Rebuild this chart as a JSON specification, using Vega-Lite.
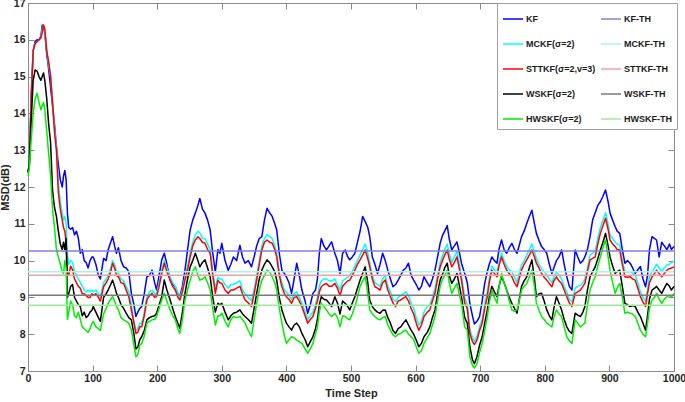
{
  "$schema": "https://vega.github.io/schema/vega-lite/v6.json",
  "width": 646,
  "height": 368,
  "autosize": {"type": "none"},
  "padding": {"left": 28, "top": 3, "right": 11, "bottom": 31},
  "background": "white",
  "config": {"view": {"stroke": "#8a8a8a", "strokeWidth": 1}, "font": "Liberation Sans"},
  "datasets": {
    "curves": [
      {"t":0,"kf":12.4,"mc":12.4,"st":12.4,"ws":12.4,"hw":12.3},
      {"t":2,"kf":12.6,"mc":12.6,"st":12.6,"ws":12.6,"hw":12.5},
      {"t":5,"kf":14.5,"mc":14.4,"st":14.4,"ws":13.8,"hw":13.3},
      {"t":8,"kf":15.7,"mc":15.7,"st":15.7,"ws":14.9,"hw":14.0},
      {"t":11,"kf":15.95,"mc":15.9,"st":15.9,"ws":15.18,"hw":14.4},
      {"t":14,"kf":16.0,"mc":15.95,"st":15.95,"ws":15.15,"hw":14.55},
      {"t":17,"kf":16.0,"mc":16.0,"st":16.0,"ws":15.0,"hw":14.3},
      {"t":20,"kf":16.1,"mc":16.05,"st":16.05,"ws":14.9,"hw":14.1},
      {"t":22,"kf":16.4,"mc":16.3,"st":16.2,"ws":15.0,"hw":14.2},
      {"t":24,"kf":16.35,"mc":16.4,"st":16.4,"ws":15.1,"hw":14.3},
      {"t":26,"kf":16.2,"mc":16.2,"st":16.3,"ws":14.9,"hw":14.1},
      {"t":29,"kf":15.6,"mc":15.7,"st":15.7,"ws":14.4,"hw":13.5},
      {"t":32,"kf":15.2,"mc":15.3,"st":15.4,"ws":13.7,"hw":12.9},
      {"t":35,"kf":14.7,"mc":15.0,"st":15.0,"ws":13.2,"hw":12.3},
      {"t":38,"kf":14.2,"mc":14.3,"st":14.3,"ws":11.9,"hw":11.4},
      {"t":41,"kf":13.7,"mc":13.6,"st":13.5,"ws":11.45,"hw":10.9},
      {"t":44,"kf":13.1,"mc":13.1,"st":13.0,"ws":11.2,"hw":10.3},
      {"t":47,"kf":12.6,"mc":12.1,"st":11.85,"ws":10.8,"hw":10.1},
      {"t":50,"kf":12.2,"mc":11.6,"st":11.4,"ws":10.45,"hw":9.9},
      {"t":53,"kf":12.0,"mc":11.3,"st":11.1,"ws":10.3,"hw":9.7},
      {"t":55,"kf":12.3,"mc":11.1,"st":10.9,"ws":10.5,"hw":9.65},
      {"t":57,"kf":12.45,"mc":11.2,"st":10.8,"ws":10.3,"hw":10.0},
      {"t":59,"kf":12.2,"mc":11.0,"st":10.5,"ws":10.6,"hw":9.8},
      {"t":61,"kf":11.3,"mc":10.2,"st":9.7,"ws":9.0,"hw":8.4},
      {"t":63,"kf":10.9,"mc":9.9,"st":9.6,"ws":9.1,"hw":8.6},
      {"t":66,"kf":10.85,"mc":10.0,"st":9.85,"ws":9.3,"hw":8.9},
      {"t":69,"kf":10.9,"mc":9.95,"st":9.75,"ws":9.35,"hw":8.8},
      {"t":72,"kf":10.7,"mc":9.7,"st":9.5,"ws":9.0,"hw":8.5},
      {"t":75,"kf":10.8,"mc":9.6,"st":9.4,"ws":8.9,"hw":8.45},
      {"t":78,"kf":10.6,"mc":9.5,"st":9.3,"ws":8.8,"hw":8.6},
      {"t":81,"kf":10.2,"mc":9.4,"st":9.25,"ws":8.75,"hw":8.4},
      {"t":84,"kf":10.3,"mc":9.3,"st":9.1,"ws":8.5,"hw":8.2},
      {"t":87,"kf":10.0,"mc":9.2,"st":9.1,"ws":8.6,"hw":8.15},
      {"t":90,"kf":9.95,"mc":9.15,"st":9.05,"ws":8.45,"hw":8.1},
      {"t":93,"kf":9.8,"mc":9.2,"st":9.0,"ws":8.5,"hw":8.05},
      {"t":96,"kf":10.0,"mc":9.15,"st":9.0,"ws":8.6,"hw":8.15},
      {"t":99,"kf":10.1,"mc":9.2,"st":9.1,"ws":8.65,"hw":8.3},
      {"t":101,"kf":10.1,"mc":9.15,"st":9.05,"ws":8.75,"hw":8.35},
      {"t":105,"kf":9.9,"mc":9.2,"st":9.1,"ws":8.6,"hw":8.2},
      {"t":109,"kf":9.6,"mc":9.1,"st":9.0,"ws":8.45,"hw":8.15},
      {"t":112,"kf":9.5,"mc":9.0,"st":8.9,"ws":8.35,"hw":8.1},
      {"t":117,"kf":10.06,"mc":9.4,"st":9.29,"ws":9.0,"hw":8.55},
      {"t":121,"kf":10.0,"mc":9.5,"st":9.4,"ws":9.1,"hw":8.7},
      {"t":124,"kf":10.29,"mc":9.6,"st":9.5,"ws":9.2,"hw":8.84},
      {"t":128,"kf":10.5,"mc":9.8,"st":9.7,"ws":9.35,"hw":8.95},
      {"t":131,"kf":10.65,"mc":10.0,"st":9.93,"ws":9.47,"hw":9.02},
      {"t":134,"kf":10.4,"mc":9.9,"st":9.8,"ws":9.3,"hw":8.9},
      {"t":137,"kf":10.2,"mc":9.7,"st":9.6,"ws":9.11,"hw":8.75},
      {"t":140,"kf":10.35,"mc":9.65,"st":9.56,"ws":9.0,"hw":8.66},
      {"t":144,"kf":10.0,"mc":9.5,"st":9.4,"ws":8.8,"hw":8.45},
      {"t":148,"kf":9.83,"mc":9.45,"st":9.38,"ws":8.7,"hw":8.39},
      {"t":152,"kf":9.8,"mc":9.3,"st":9.2,"ws":8.57,"hw":8.35},
      {"t":156,"kf":9.7,"mc":9.15,"st":9.02,"ws":8.45,"hw":8.3},
      {"t":160,"kf":9.11,"mc":8.8,"st":8.66,"ws":8.39,"hw":8.11},
      {"t":164,"kf":8.8,"mc":8.35,"st":8.3,"ws":8.0,"hw":7.7},
      {"t":167,"kf":8.48,"mc":8.1,"st":8.02,"ws":7.6,"hw":7.39},
      {"t":170,"kf":8.6,"mc":8.15,"st":8.05,"ws":7.65,"hw":7.45},
      {"t":173,"kf":8.7,"mc":8.3,"st":8.2,"ws":7.85,"hw":7.7},
      {"t":176,"kf":8.75,"mc":8.3,"st":8.2,"ws":7.93,"hw":7.75},
      {"t":180,"kf":9.1,"mc":8.6,"st":8.5,"ws":8.1,"hw":7.95},
      {"t":184,"kf":9.56,"mc":9.0,"st":8.93,"ws":8.39,"hw":8.3},
      {"t":188,"kf":9.6,"mc":9.15,"st":9.05,"ws":8.45,"hw":8.35},
      {"t":192,"kf":9.74,"mc":9.2,"st":9.11,"ws":8.48,"hw":8.39},
      {"t":196,"kf":9.4,"mc":9.1,"st":9.0,"ws":8.5,"hw":8.4},
      {"t":199,"kf":9.2,"mc":9.1,"st":9.02,"ws":8.57,"hw":8.48},
      {"t":203,"kf":9.6,"mc":9.4,"st":9.3,"ws":8.8,"hw":8.7},
      {"t":207,"kf":10.02,"mc":9.75,"st":9.65,"ws":9.02,"hw":8.93},
      {"t":211,"kf":10.2,"mc":10.0,"st":9.93,"ws":9.47,"hw":9.11},
      {"t":215,"kf":9.9,"mc":9.8,"st":9.7,"ws":9.2,"hw":8.9},
      {"t":220,"kf":9.47,"mc":9.55,"st":9.47,"ws":8.93,"hw":8.66},
      {"t":224,"kf":9.35,"mc":9.4,"st":9.3,"ws":8.7,"hw":8.5},
      {"t":228,"kf":9.29,"mc":9.3,"st":9.2,"ws":8.48,"hw":8.39},
      {"t":232,"kf":9.1,"mc":9.1,"st":9.0,"ws":8.3,"hw":8.15},
      {"t":235,"kf":9.02,"mc":9.0,"st":8.93,"ws":8.16,"hw":8.02},
      {"t":239,"kf":9.3,"mc":9.2,"st":9.15,"ws":8.6,"hw":8.4},
      {"t":243,"kf":9.74,"mc":9.55,"st":9.47,"ws":9.11,"hw":8.93},
      {"t":247,"kf":10.3,"mc":9.85,"st":9.75,"ws":9.5,"hw":9.2},
      {"t":251,"kf":10.83,"mc":10.2,"st":10.1,"ws":9.83,"hw":9.47},
      {"t":255,"kf":11.1,"mc":10.5,"st":10.4,"ws":10.0,"hw":9.7},
      {"t":259,"kf":11.29,"mc":10.7,"st":10.56,"ws":10.2,"hw":9.83},
      {"t":263,"kf":11.5,"mc":10.8,"st":10.65,"ws":10.0,"hw":9.6},
      {"t":266,"kf":11.69,"mc":10.75,"st":10.6,"ws":9.83,"hw":9.47},
      {"t":270,"kf":11.4,"mc":10.6,"st":10.5,"ws":9.95,"hw":9.5},
      {"t":274,"kf":11.29,"mc":10.6,"st":10.47,"ws":10.02,"hw":9.56},
      {"t":278,"kf":11.1,"mc":10.45,"st":10.3,"ws":9.8,"hw":9.4},
      {"t":282,"kf":10.83,"mc":10.3,"st":10.2,"ws":9.56,"hw":9.2},
      {"t":286,"kf":10.2,"mc":9.7,"st":9.6,"ws":9.0,"hw":8.7},
      {"t":290,"kf":9.7,"mc":9.25,"st":9.11,"ws":8.6,"hw":8.25},
      {"t":294,"kf":10.3,"mc":9.55,"st":9.47,"ws":8.84,"hw":8.5},
      {"t":297,"kf":10.2,"mc":9.5,"st":9.4,"ws":8.8,"hw":8.5},
      {"t":300,"kf":10.47,"mc":9.5,"st":9.38,"ws":8.84,"hw":8.57},
      {"t":305,"kf":10.0,"mc":9.35,"st":9.2,"ws":8.6,"hw":8.35},
      {"t":310,"kf":9.74,"mc":9.25,"st":9.11,"ws":8.39,"hw":8.2},
      {"t":314,"kf":9.9,"mc":9.35,"st":9.2,"ws":8.5,"hw":8.4},
      {"t":318,"kf":10.1,"mc":9.35,"st":9.2,"ws":8.57,"hw":8.48},
      {"t":323,"kf":10.0,"mc":9.4,"st":9.25,"ws":8.6,"hw":8.45},
      {"t":328,"kf":10.42,"mc":9.45,"st":9.3,"ws":8.66,"hw":8.48},
      {"t":332,"kf":10.1,"mc":9.2,"st":9.1,"ws":8.55,"hw":8.4},
      {"t":336,"kf":9.93,"mc":9.1,"st":8.93,"ws":8.48,"hw":8.3},
      {"t":341,"kf":10.0,"mc":9.0,"st":8.85,"ws":8.4,"hw":8.1},
      {"t":346,"kf":9.83,"mc":8.9,"st":8.75,"ws":8.3,"hw":7.93},
      {"t":350,"kf":10.1,"mc":9.2,"st":9.1,"ws":8.7,"hw":8.4},
      {"t":354,"kf":10.4,"mc":9.6,"st":9.47,"ws":9.11,"hw":8.84},
      {"t":358,"kf":10.6,"mc":10.0,"st":9.9,"ws":9.5,"hw":9.2},
      {"t":362,"kf":10.65,"mc":10.4,"st":10.29,"ws":9.74,"hw":9.47},
      {"t":366,"kf":11.1,"mc":10.6,"st":10.5,"ws":9.9,"hw":9.6},
      {"t":370,"kf":11.42,"mc":10.7,"st":10.56,"ws":10.02,"hw":9.74},
      {"t":374,"kf":11.3,"mc":10.65,"st":10.5,"ws":9.95,"hw":9.7},
      {"t":378,"kf":11.2,"mc":10.6,"st":10.47,"ws":9.83,"hw":9.56},
      {"t":382,"kf":11.0,"mc":10.4,"st":10.3,"ws":9.7,"hw":9.4},
      {"t":385,"kf":10.83,"mc":10.2,"st":10.1,"ws":9.47,"hw":9.2},
      {"t":389,"kf":10.2,"mc":9.7,"st":9.6,"ws":9.0,"hw":8.7},
      {"t":393,"kf":9.74,"mc":9.4,"st":9.29,"ws":8.66,"hw":8.3},
      {"t":397,"kf":9.65,"mc":9.2,"st":9.1,"ws":8.45,"hw":7.95},
      {"t":400,"kf":9.56,"mc":9.15,"st":9.02,"ws":8.3,"hw":7.75},
      {"t":404,"kf":9.4,"mc":9.05,"st":8.95,"ws":8.2,"hw":7.85},
      {"t":408,"kf":9.11,"mc":8.95,"st":8.84,"ws":8.11,"hw":7.93},
      {"t":412,"kf":9.5,"mc":9.1,"st":9.0,"ws":8.25,"hw":7.9},
      {"t":416,"kf":9.93,"mc":9.15,"st":9.02,"ws":8.3,"hw":7.84},
      {"t":420,"kf":9.6,"mc":9.0,"st":8.9,"ws":8.2,"hw":7.8},
      {"t":424,"kf":9.2,"mc":8.85,"st":8.75,"ws":8.02,"hw":7.75},
      {"t":429,"kf":8.9,"mc":8.6,"st":8.5,"ws":7.85,"hw":7.6},
      {"t":433,"kf":8.57,"mc":8.4,"st":8.3,"ws":7.66,"hw":7.48},
      {"t":437,"kf":8.8,"mc":8.5,"st":8.4,"ws":7.8,"hw":7.6},
      {"t":441,"kf":9.11,"mc":8.6,"st":8.48,"ws":7.93,"hw":7.75},
      {"t":445,"kf":9.2,"mc":8.8,"st":8.7,"ws":8.15,"hw":8.0},
      {"t":448,"kf":9.5,"mc":9.0,"st":8.9,"ws":8.4,"hw":8.2},
      {"t":451,"kf":10.2,"mc":9.3,"st":9.15,"ws":8.8,"hw":8.6},
      {"t":454,"kf":10.6,"mc":9.45,"st":9.29,"ws":9.02,"hw":8.84},
      {"t":458,"kf":10.4,"mc":9.5,"st":9.35,"ws":8.95,"hw":8.75},
      {"t":462,"kf":10.29,"mc":9.5,"st":9.38,"ws":8.93,"hw":8.66},
      {"t":466,"kf":10.4,"mc":9.45,"st":9.3,"ws":8.85,"hw":8.55},
      {"t":470,"kf":10.51,"mc":9.45,"st":9.3,"ws":8.75,"hw":8.48},
      {"t":475,"kf":10.2,"mc":9.5,"st":9.38,"ws":9.02,"hw":8.57},
      {"t":479,"kf":10.0,"mc":9.35,"st":9.25,"ws":8.85,"hw":8.45},
      {"t":483,"kf":9.65,"mc":9.2,"st":9.05,"ws":8.55,"hw":8.2},
      {"t":487,"kf":10.2,"mc":9.45,"st":9.3,"ws":8.9,"hw":8.5},
      {"t":491,"kf":10.29,"mc":9.5,"st":9.38,"ws":8.84,"hw":8.48},
      {"t":495,"kf":10.1,"mc":9.55,"st":9.45,"ws":8.75,"hw":8.42},
      {"t":498,"kf":10.02,"mc":9.6,"st":9.47,"ws":8.66,"hw":8.39},
      {"t":502,"kf":10.1,"mc":9.7,"st":9.6,"ws":8.85,"hw":8.55},
      {"t":506,"kf":10.2,"mc":9.85,"st":9.74,"ws":9.02,"hw":8.75},
      {"t":510,"kf":10.5,"mc":10.0,"st":9.9,"ws":9.25,"hw":9.0},
      {"t":514,"kf":10.79,"mc":10.15,"st":10.02,"ws":9.47,"hw":9.3},
      {"t":518,"kf":11.2,"mc":10.3,"st":10.15,"ws":9.65,"hw":9.45},
      {"t":522,"kf":11.06,"mc":10.45,"st":10.29,"ws":9.83,"hw":9.56},
      {"t":526,"kf":10.9,"mc":10.2,"st":10.05,"ws":9.4,"hw":9.1},
      {"t":529,"kf":10.65,"mc":9.95,"st":9.83,"ws":8.93,"hw":8.66},
      {"t":533,"kf":10.1,"mc":9.6,"st":9.5,"ws":8.75,"hw":8.55},
      {"t":537,"kf":9.9,"mc":9.4,"st":9.29,"ws":8.66,"hw":8.48},
      {"t":541,"kf":9.65,"mc":9.35,"st":9.25,"ws":8.6,"hw":8.42},
      {"t":545,"kf":9.9,"mc":9.3,"st":9.2,"ws":8.57,"hw":8.39},
      {"t":549,"kf":10.2,"mc":9.5,"st":9.4,"ws":8.65,"hw":8.45},
      {"t":553,"kf":10.0,"mc":9.6,"st":9.47,"ws":8.66,"hw":8.48},
      {"t":557,"kf":9.74,"mc":9.3,"st":9.2,"ws":8.45,"hw":8.25},
      {"t":561,"kf":9.5,"mc":9.15,"st":9.02,"ws":8.3,"hw":8.11},
      {"t":565,"kf":9.29,"mc":8.95,"st":8.85,"ws":8.1,"hw":7.98},
      {"t":569,"kf":9.35,"mc":8.88,"st":8.75,"ws":8.02,"hw":7.93},
      {"t":573,"kf":9.47,"mc":9.0,"st":8.9,"ws":8.15,"hw":8.0},
      {"t":577,"kf":9.6,"mc":9.05,"st":8.93,"ws":8.2,"hw":8.02},
      {"t":581,"kf":9.74,"mc":9.1,"st":8.98,"ws":8.3,"hw":8.08},
      {"t":585,"kf":9.8,"mc":9.15,"st":9.02,"ws":8.39,"hw":8.11},
      {"t":589,"kf":9.93,"mc":9.05,"st":8.9,"ws":8.25,"hw":8.0},
      {"t":593,"kf":9.6,"mc":8.85,"st":8.7,"ws":8.11,"hw":7.93},
      {"t":597,"kf":9.47,"mc":8.7,"st":8.55,"ws":8.0,"hw":7.85},
      {"t":601,"kf":9.35,"mc":8.45,"st":8.3,"ws":7.84,"hw":7.66},
      {"t":605,"kf":9.2,"mc":8.25,"st":8.11,"ws":7.66,"hw":7.48},
      {"t":609,"kf":9.3,"mc":8.35,"st":8.25,"ws":7.75,"hw":7.55},
      {"t":613,"kf":9.56,"mc":8.6,"st":8.48,"ws":7.93,"hw":7.75},
      {"t":618,"kf":9.4,"mc":8.75,"st":8.6,"ws":8.05,"hw":7.9},
      {"t":622,"kf":9.29,"mc":8.8,"st":8.66,"ws":8.2,"hw":8.02},
      {"t":626,"kf":9.5,"mc":9.0,"st":8.9,"ws":8.45,"hw":8.25},
      {"t":630,"kf":9.74,"mc":9.25,"st":9.11,"ws":8.66,"hw":8.48},
      {"t":634,"kf":10.1,"mc":9.6,"st":9.5,"ws":9.1,"hw":8.9},
      {"t":638,"kf":10.47,"mc":9.95,"st":9.83,"ws":9.47,"hw":9.3},
      {"t":642,"kf":10.7,"mc":10.15,"st":10.02,"ws":9.65,"hw":9.5},
      {"t":645,"kf":10.8,"mc":10.3,"st":10.15,"ws":9.8,"hw":9.6},
      {"t":649,"kf":10.95,"mc":10.45,"st":10.29,"ws":9.93,"hw":9.74},
      {"t":652,"kf":10.6,"mc":10.2,"st":10.05,"ws":9.6,"hw":9.4},
      {"t":656,"kf":10.29,"mc":9.95,"st":9.83,"ws":9.38,"hw":9.11},
      {"t":660,"kf":10.4,"mc":10.1,"st":9.95,"ws":9.5,"hw":9.25},
      {"t":664,"kf":10.51,"mc":10.25,"st":10.1,"ws":9.65,"hw":9.38},
      {"t":668,"kf":10.2,"mc":9.9,"st":9.75,"ws":9.3,"hw":9.05},
      {"t":671,"kf":9.93,"mc":9.6,"st":9.47,"ws":9.02,"hw":8.84},
      {"t":676,"kf":9.65,"mc":9.0,"st":8.85,"ws":8.45,"hw":8.2},
      {"t":680,"kf":9.4,"mc":8.8,"st":8.7,"ws":8.3,"hw":8.11},
      {"t":684,"kf":8.84,"mc":8.15,"st":8.02,"ws":7.66,"hw":7.39},
      {"t":688,"kf":8.5,"mc":7.9,"st":7.8,"ws":7.3,"hw":7.15},
      {"t":691,"kf":8.28,"mc":7.8,"st":7.72,"ws":7.2,"hw":7.08},
      {"t":695,"kf":8.35,"mc":7.95,"st":7.84,"ws":7.39,"hw":7.2},
      {"t":699,"kf":8.48,"mc":8.2,"st":8.1,"ws":7.7,"hw":7.5},
      {"t":703,"kf":8.9,"mc":8.4,"st":8.3,"ws":7.93,"hw":7.75},
      {"t":707,"kf":9.38,"mc":8.8,"st":8.7,"ws":8.3,"hw":8.1},
      {"t":711,"kf":9.7,"mc":9.15,"st":9.02,"ws":8.66,"hw":8.48},
      {"t":714,"kf":9.9,"mc":9.5,"st":9.4,"ws":9.0,"hw":8.85},
      {"t":718,"kf":10.1,"mc":9.85,"st":9.74,"ws":9.3,"hw":9.2},
      {"t":722,"kf":10.0,"mc":9.75,"st":9.65,"ws":9.15,"hw":9.0},
      {"t":726,"kf":9.93,"mc":9.68,"st":9.56,"ws":9.02,"hw":8.84},
      {"t":729,"kf":10.3,"mc":9.95,"st":9.85,"ws":9.3,"hw":9.25},
      {"t":733,"kf":10.56,"mc":10.2,"st":10.1,"ws":9.56,"hw":9.65},
      {"t":737,"kf":10.3,"mc":10.0,"st":9.9,"ws":9.4,"hw":9.4},
      {"t":741,"kf":10.2,"mc":9.85,"st":9.74,"ws":9.2,"hw":9.2},
      {"t":745,"kf":10.35,"mc":9.75,"st":9.65,"ws":9.0,"hw":8.9},
      {"t":749,"kf":10.47,"mc":9.7,"st":9.56,"ws":8.84,"hw":8.66},
      {"t":753,"kf":10.3,"mc":9.55,"st":9.4,"ws":8.7,"hw":8.62},
      {"t":757,"kf":10.2,"mc":9.4,"st":9.29,"ws":8.57,"hw":8.66},
      {"t":761,"kf":10.45,"mc":9.7,"st":9.55,"ws":9.0,"hw":8.95},
      {"t":764,"kf":10.65,"mc":9.88,"st":9.74,"ws":9.3,"hw":9.2},
      {"t":768,"kf":10.8,"mc":10.0,"st":9.9,"ws":9.45,"hw":9.3},
      {"t":772,"kf":11.01,"mc":10.15,"st":10.02,"ws":9.56,"hw":9.38},
      {"t":776,"kf":11.2,"mc":10.3,"st":10.15,"ws":9.8,"hw":9.55},
      {"t":780,"kf":11.37,"mc":10.45,"st":10.29,"ws":10.02,"hw":9.74},
      {"t":784,"kf":11.0,"mc":10.25,"st":10.1,"ws":9.5,"hw":9.3},
      {"t":787,"kf":10.74,"mc":10.05,"st":9.93,"ws":9.02,"hw":8.84},
      {"t":791,"kf":10.55,"mc":9.9,"st":9.8,"ws":9.1,"hw":8.65},
      {"t":795,"kf":10.38,"mc":9.78,"st":9.65,"ws":9.11,"hw":8.48},
      {"t":799,"kf":10.3,"mc":9.7,"st":9.55,"ws":8.9,"hw":8.4},
      {"t":803,"kf":10.2,"mc":9.6,"st":9.47,"ws":8.66,"hw":8.3},
      {"t":807,"kf":9.9,"mc":9.5,"st":9.38,"ws":8.5,"hw":8.25},
      {"t":811,"kf":9.65,"mc":9.4,"st":9.29,"ws":8.39,"hw":8.2},
      {"t":814,"kf":9.8,"mc":9.55,"st":9.45,"ws":8.7,"hw":8.45},
      {"t":818,"kf":10.0,"mc":9.7,"st":9.56,"ws":9.02,"hw":8.66},
      {"t":822,"kf":10.1,"mc":9.6,"st":9.45,"ws":8.85,"hw":8.55},
      {"t":826,"kf":10.29,"mc":9.5,"st":9.38,"ws":8.66,"hw":8.48},
      {"t":830,"kf":9.9,"mc":9.3,"st":9.2,"ws":8.4,"hw":8.2},
      {"t":834,"kf":9.56,"mc":9.15,"st":9.02,"ws":8.2,"hw":7.93},
      {"t":838,"kf":9.3,"mc":8.95,"st":8.85,"ws":8.08,"hw":7.82},
      {"t":842,"kf":9.2,"mc":8.88,"st":8.75,"ws":8.02,"hw":7.75},
      {"t":847,"kf":10.29,"mc":9.25,"st":9.11,"ws":8.57,"hw":8.39},
      {"t":851,"kf":10.1,"mc":9.3,"st":9.15,"ws":8.52,"hw":8.3},
      {"t":855,"kf":9.93,"mc":9.32,"st":9.2,"ws":8.48,"hw":8.2},
      {"t":859,"kf":10.0,"mc":9.4,"st":9.3,"ws":8.6,"hw":8.25},
      {"t":862,"kf":10.1,"mc":9.5,"st":9.38,"ws":8.75,"hw":8.3},
      {"t":866,"kf":10.3,"mc":9.8,"st":9.7,"ws":9.2,"hw":8.8},
      {"t":870,"kf":10.65,"mc":10.15,"st":10.02,"ws":9.56,"hw":9.2},
      {"t":874,"kf":11.1,"mc":10.2,"st":10.06,"ws":9.7,"hw":9.4},
      {"t":878,"kf":11.3,"mc":10.25,"st":10.1,"ws":9.83,"hw":9.56},
      {"t":882,"kf":11.5,"mc":10.6,"st":10.45,"ws":10.05,"hw":9.85},
      {"t":886,"kf":11.6,"mc":10.9,"st":10.74,"ws":10.29,"hw":10.1},
      {"t":890,"kf":11.75,"mc":11.1,"st":10.95,"ws":10.5,"hw":10.35},
      {"t":894,"kf":11.92,"mc":11.3,"st":11.15,"ws":10.74,"hw":10.56},
      {"t":898,"kf":11.6,"mc":11.0,"st":10.85,"ws":10.4,"hw":10.1},
      {"t":901,"kf":11.29,"mc":10.7,"st":10.56,"ws":10.1,"hw":9.74},
      {"t":905,"kf":11.1,"mc":10.6,"st":10.45,"ws":9.85,"hw":9.4},
      {"t":909,"kf":10.92,"mc":10.5,"st":10.38,"ws":9.65,"hw":9.11},
      {"t":912,"kf":10.8,"mc":10.45,"st":10.3,"ws":9.7,"hw":9.25},
      {"t":916,"kf":10.74,"mc":10.42,"st":10.29,"ws":9.74,"hw":9.38},
      {"t":920,"kf":10.3,"mc":10.0,"st":9.9,"ws":9.3,"hw":9.0},
      {"t":924,"kf":9.93,"mc":9.7,"st":9.56,"ws":8.84,"hw":8.57},
      {"t":928,"kf":10.0,"mc":9.68,"st":9.55,"ws":8.8,"hw":8.6},
      {"t":932,"kf":9.93,"mc":9.7,"st":9.56,"ws":8.75,"hw":8.57},
      {"t":936,"kf":9.8,"mc":9.65,"st":9.5,"ws":8.78,"hw":8.55},
      {"t":940,"kf":9.65,"mc":9.6,"st":9.47,"ws":8.75,"hw":8.48},
      {"t":944,"kf":9.75,"mc":9.4,"st":9.25,"ws":8.6,"hw":8.3},
      {"t":948,"kf":9.84,"mc":9.15,"st":9.02,"ws":8.48,"hw":8.11},
      {"t":952,"kf":9.5,"mc":9.0,"st":8.88,"ws":8.3,"hw":8.0},
      {"t":956,"kf":9.29,"mc":8.9,"st":8.75,"ws":8.11,"hw":7.93},
      {"t":959,"kf":9.6,"mc":9.2,"st":9.1,"ws":8.5,"hw":8.3},
      {"t":962,"kf":10.3,"mc":9.55,"st":9.4,"ws":8.95,"hw":8.7},
      {"t":966,"kf":10.65,"mc":9.7,"st":9.56,"ws":9.2,"hw":8.93},
      {"t":970,"kf":10.6,"mc":9.8,"st":9.65,"ws":9.25,"hw":9.0},
      {"t":973,"kf":10.56,"mc":9.9,"st":9.74,"ws":9.3,"hw":9.11},
      {"t":977,"kf":10.1,"mc":9.8,"st":9.65,"ws":9.2,"hw":8.95},
      {"t":981,"kf":10.5,"mc":9.7,"st":9.56,"ws":9.11,"hw":8.84},
      {"t":985,"kf":10.4,"mc":9.8,"st":9.65,"ws":9.25,"hw":8.95},
      {"t":989,"kf":10.3,"mc":9.88,"st":9.74,"ws":9.38,"hw":9.02},
      {"t":993,"kf":10.45,"mc":9.9,"st":9.78,"ws":9.3,"hw":9.05},
      {"t":996,"kf":10.3,"mc":9.95,"st":9.8,"ws":9.2,"hw":9.0},
      {"t":1000,"kf":10.38,"mc":9.98,"st":9.83,"ws":9.3,"hw":9.11}
    ],
    "th": [
      {"s":"kfth","v":10.26},
      {"s":"mcth","v":9.70},
      {"s":"stth","v":9.60},
      {"s":"wsth","v":9.06},
      {"s":"hwth","v":8.79}
    ]
  },
  "layer": [
    {
      "data": {"name": "curves"},
      "transform": [{"fold": ["kf","mc","st","ws","hw"], "as": ["s","v"]}],
      "mark": {"type": "line", "strokeJoin": "round"},
      "encoding": {
        "x": {"field": "t", "type": "quantitative",
              "scale": {"domain": [0,1000], "nice": false, "zero": false},
              "axis": {"orient": "bottom", "values": [0,100,200,300,400,500,600,700,800,900,1000], "format": "d",
                       "tickSize": -6, "labelPadding": 8, "labelFontWeight": "bold", "labelFontSize": 10.5,
                       "labelColor": "#262626", "tickColor": "#8a8a8a", "domainColor": "#8a8a8a", "grid": false,
                       "labelFlush": false, "labelOverlap": false, "title": "Time Step", "titleFontSize": 11, "titleFontWeight": "bold",
                       "titleColor": "#262626", "titlePadding": 4}},
        "y": {"field": "v", "type": "quantitative",
              "scale": {"domain": [7,17], "nice": false, "zero": false},
              "axis": {"orient": "left", "values": [7,8,9,10,11,12,13,14,15,16,17],
                       "tickSize": -6, "labelPadding": 9, "labelFontWeight": "bold", "labelFontSize": 10.5,
                       "labelColor": "#262626", "tickColor": "#8a8a8a", "domainColor": "#8a8a8a", "grid": false,
                       "labelFlush": false, "labelOverlap": false, "title": "MSD(dB)", "titleFontSize": 11, "titleFontWeight": "bold",
                       "titleColor": "#262626", "titlePadding": 3}},
        "color": {"field": "s", "type": "nominal",
                  "scale": {"domain": ["kf","mc","st","ws","hw","kfth","mcth","stth","wsth","hwth"],
                            "range": ["#0000ff","#00ffff","#ff0000","#000000","#00ee00","#8080d8","#a8f2f2","#eaa4a4","#7a7a7a","#9ee89e"]},
                  "legend": {"orient": "none", "legendX": 469, "legendY": 0, "columns": 2, "columnPadding": 2,
                             "rowPadding": 9, "symbolType": "stroke", "symbolSize": 400, "labelFont": "Liberation Sans",
                             "labelFontWeight": "bold", "labelFontSize": 9, "labelColor": "#1a1a1a", "labelOffset": 2,
                             "padding": 5, "strokeColor": "#a0a0a0", "fillColor": "white", "title": null, "labelLimit": 200,
                             "labelExpr": "['KF','MCKF(σ=2)','STTKF(σ=2,v=3)','WSKF(σ=2)','HWSKF(σ=2)','KF-TH','MCKF-TH','STTKF-TH','WSKF-TH','HWSKF-TH'][indexof(['kf','mc','st','ws','hw','kfth','mcth','stth','wsth','hwth'], datum.value)]"}},
        "strokeWidth": {"field": "s", "type": "nominal",
                        "scale": {"domain": ["kf","mc","st","ws","hw","kfth","mcth","stth","wsth","hwth"],
                                  "range": [1.5,1.5,1.5,1.5,1.5,1,1,1,1,1]}}
      }
    },
    {
      "data": {"name": "th"},
      "mark": {"type": "rule"},
      "encoding": {
        "y": {"field": "v", "type": "quantitative",
              "axis": {"orient": "right", "values": [7,8,9,10,11,12,13,14,15,16,17], "labels": false, "title": null,
                       "tickSize": -6, "tickColor": "#8a8a8a", "domainColor": "#8a8a8a", "grid": false}},
        "color": {"field": "s", "type": "nominal"},
        "strokeWidth": {"field": "s", "type": "nominal"}
      }
    },
    {
      "data": {"values": [{"t": 0, "v": 7}]},
      "mark": {"type": "point", "opacity": 0},
      "encoding": {
        "x": {"field": "t", "type": "quantitative",
              "axis": {"orient": "top", "values": [0,100,200,300,400,500,600,700,800,900,1000], "labels": false,
                       "title": null, "tickSize": -6, "tickColor": "#8a8a8a", "domainColor": "#8a8a8a", "grid": false}},
        "y": {"field": "v", "type": "quantitative", "axis": null}
      }
    }
  ],
  "resolve": {"axis": {"x": "independent", "y": "independent"}}
}
